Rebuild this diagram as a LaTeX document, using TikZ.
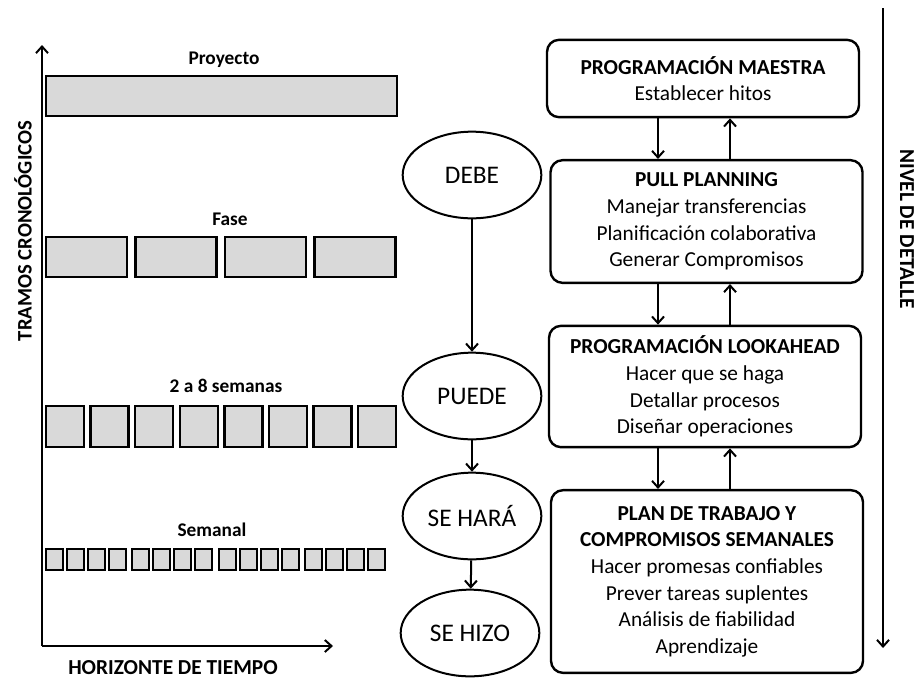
\documentclass[tikz,border=0pt]{standalone}
\usepackage{fontspec}
\setmainfont{Carlito}
\usetikzlibrary{positioning, arrows.meta, shapes.geometric}

\tikzset{
  bar/.style={draw, line width=1.8pt, fill=black!15},
  caja/.style={draw, line width=1.8pt, rounded corners=9pt, align=center,
    minimum width=234pt, font=\fontsize{16}{20}\selectfont},
  elip/.style={draw, ellipse, line width=1.5pt, minimum width=104pt,
    minimum height=65pt, inner sep=0pt, font=\fontsize{19}{22}\selectfont},
  flecha/.style={line width=1.5pt, -{Straight Barb[length=5pt,width=9pt]}},
  etiq/.style={font=\fontsize{14.5}{16}\selectfont\bfseries},
  eje/.style={font=\fontsize{16}{18}\selectfont\bfseries},
}

\begin{document}
\begin{tikzpicture}[x=0.75pt, y=-0.75pt]
\useasboundingbox (0,0) rectangle (919,679);

% axes
\coordinate (O) at (42,646);
\coordinate (ytop) at (42,45);
\coordinate (xend) at (333,646);
\draw[flecha] (O) -- (ytop);
\draw[flecha] (O) -- (xend);
\node[eje] (xlab) at (173,668) {HORIZONTE DE TIEMPO};
\node[eje, font=\fontsize{15.5}{18}\selectfont\bfseries, rotate=90] (ylab) at (23,231) {TRAMOS CRONOLÓGICOS};

% bars
\node[etiq] (proy) at (224,60) {Proyecto};
\draw[bar] (46,76) rectangle (397,116);
\node[etiq] (fase) at (230,219) {Fase};
\foreach \i in {0,...,3}
  \draw[bar] ({46+\i*89.5},237) rectangle ({127+\i*89.5},277);
\node[etiq] (sem8) at (226,386) {2 a 8 semanas};
\foreach \i in {0,...,7}
  \draw[bar] ({46+\i*44.6},406) rectangle ({84+\i*44.6},447);
\node[etiq] (sem) at (212,530) {Semanal};
\foreach \g in {0,...,3}
  \foreach \j in {0,...,3}
    \draw[bar, line width=1.5pt] ({46+\g*86.3+\j*21},549) rectangle ({63+\g*86.3+\j*21},570);

% ellipses
\node[elip] (debe) at (472,175) {DEBE};
\node[elip] (puede) at (472,396) {PUEDE};
\node[elip] (hara) at (472,516) {SE HARÁ};
\node[elip] (hizo) at (470,633) {SE HIZO};
\draw[flecha] (debe) -- (puede);
\draw[flecha] (puede) -- (hara);
\draw[flecha] (hara) -- (hizo);

% planning levels
\node[caja, minimum height=58pt] (maestra) at (703,78.5)
  {\textbf{PROGRAMACIÓN MAESTRA}\\Establecer hitos};
\node[caja, minimum height=92pt] (pull) at (706.5,221.5)
  {\textbf{PULL PLANNING}\\Manejar transferencias\\Planificación colaborativa\\Generar Compromisos};
\node[caja, minimum height=91pt] (look) at (705,386.5)
  {\textbf{PROGRAMACIÓN LOOKAHEAD}\\Hacer que se haga\\Detallar procesos\\Diseñar operaciones};
\node[caja, minimum height=137pt] (plan) at (707,581.5)
  {\textbf{PLAN DE TRABAJO Y}\\\textbf{COMPROMISOS SEMANALES}\\Hacer promesas confiables\\Prever tareas suplentes\\Análisis de fiabilidad\\Aprendizaje};

\coordinate (dn) at (658,0);
\coordinate (up) at (730,0);
\foreach \a/\b in {maestra/pull, pull/look, look/plan}{
  \draw[flecha] (\a.south -| dn) -- (\b.north -| dn);
  \draw[flecha] (\b.north -| up) -- (\a.south -| up);
}

% detail axis
\coordinate (dtop) at (883,8);
\coordinate (dbot) at (883,648);
\draw[flecha] (dtop) -- (dbot);
\node[eje, rotate=-90] (dlab) at (907,229) {NIVEL DE DETALLE};
\end{tikzpicture}
\end{document}
